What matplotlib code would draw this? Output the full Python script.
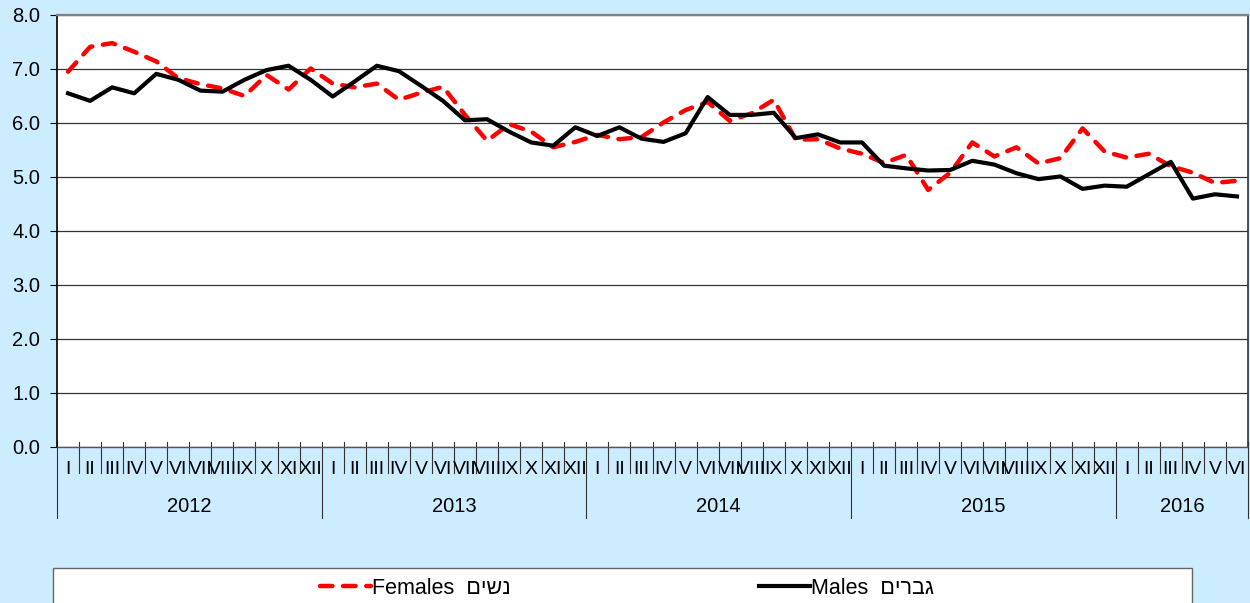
import matplotlib
matplotlib.use("Agg")
import matplotlib.pyplot as plt
import numpy as np
from matplotlib.patches import Rectangle
from matplotlib.transforms import blended_transform_factory

# monthly rates, 2012 I .. 2016 VI
years = ["2012", "2013", "2014", "2015", "2016"]
months_per_year = [12, 12, 12, 12, 6]
month_names = ["I", "II", "III", "IV", "V", "VI", "VII", "VIII", "IX", "X", "XI", "XII"]

females = [
    6.95, 7.41, 7.48, 7.32, 7.14, 6.83, 6.72, 6.64, 6.50, 6.89, 6.62, 7.01,
    6.73, 6.66, 6.73, 6.43, 6.56, 6.67, 6.15, 5.67, 5.98, 5.84, 5.55, 5.65,
    5.78, 5.70, 5.74, 6.01, 6.24, 6.39, 6.04, 6.18, 6.43, 5.69, 5.70, 5.53,
    5.43, 5.26, 5.41, 4.76, 5.08, 5.64, 5.38, 5.55, 5.25, 5.35, 5.90, 5.47,
    5.36, 5.43, 5.20, 5.08, 4.89, 4.93,
]
males = [
    6.55, 6.41, 6.66, 6.55, 6.91, 6.80, 6.60, 6.58, 6.80, 6.98, 7.06, 6.80,
    6.49, 6.77, 7.06, 6.96, 6.69, 6.41, 6.05, 6.07, 5.84, 5.64, 5.58, 5.92,
    5.76, 5.92, 5.71, 5.65, 5.81, 6.48, 6.15, 6.15, 6.19, 5.72, 5.79, 5.64,
    5.64, 5.21, 5.16, 5.12, 5.13, 5.30, 5.23, 5.07, 4.96, 5.01, 4.78, 4.84,
    4.82, 5.05, 5.28, 4.60, 4.68, 4.64,
]

label_females = "Females"
label_males = "Males"
heb_females = "נשים"
heb_males = "גברים"

BG = "#CCECFF"
W, H = 1250, 603

plt.rcParams["font.family"] = ["Liberation Sans", "DejaVu Sans"]

fig = plt.figure(figsize=(W / 100, H / 100), dpi=100, facecolor=BG)
left, right, top, bottom = 57, 1248, 15, 447
ax = fig.add_axes([left / W, 1 - bottom / H, (right - left) / W, (bottom - top) / H])
ax.set_facecolor("white")

x = np.arange(len(males))
ln_f, = ax.plot(x, females, color="#FF0000", lw=3.2, dashes=(2.8, 2.4),
                dash_capstyle="round", zorder=3)
ln_m, = ax.plot(x, males, color="black", lw=3.0, zorder=4)

ax.set_xlim(-0.5, len(males) - 0.5)
ax.set_ylim(0, 8)
ax.set_yticks(np.arange(0, 8.01, 1.0))
ax.set_yticklabels([f"{v:.1f}" for v in np.arange(0, 8.01, 1.0)])
ax.tick_params(axis="y", labelsize=14.5, length=5, width=0.8, pad=7, colors="black")
ax.set_xticks([])
ax.yaxis.grid(True, color="#333333", lw=0.9)
ax.set_axisbelow(True)

ax.spines["left"].set_color("black")
ax.spines["left"].set_linewidth(1.2)
ax.spines["top"].set_color("#808080")
ax.spines["top"].set_linewidth(1.6)
ax.spines["right"].set_color("#333333")
ax.spines["right"].set_linewidth(1.2)
ax.spines["bottom"].set_color("#555555")
ax.spines["bottom"].set_linewidth(1.0)

# two level category axis: months, then years
trans = blended_transform_factory(ax.transData, ax.transAxes)
ph = bottom - top
labels = [m for n in months_per_year for m in month_names[:n]]
for i, m in enumerate(labels):
    ax.text(i, -23 / ph, m, transform=trans, ha="center", va="center", fontsize=14)

year_edges = np.concatenate([[0], np.cumsum(months_per_year)])
for k in range(len(labels) + 1):
    low = -71 / ph if k in year_edges else -26 / ph
    ax.plot([k - 0.5, k - 0.5], [5 / ph, low], transform=trans, color="#333333",
            lw=0.8, clip_on=False)
for y, a, b in zip(years, year_edges[:-1], year_edges[1:]):
    ax.text((a + b - 1) / 2, -59 / ph, y, transform=trans, ha="center", va="center",
            fontsize=14.5)

# legend box
fig.add_artist(Rectangle((53 / W, -0.1), (1192 - 53) / W, 0.1 + (H - 568) / H,
                         transform=fig.transFigure, facecolor="white",
                         edgecolor="#666666", lw=1.0, zorder=1))
fig.legend([ln_f, ln_m],
           [f"{label_females}  {heb_females[::-1]}", f"{label_males}  {heb_males[::-1]}"],
           loc="center", bbox_to_anchor=(627 / W, 1 - 588 / H), ncol=2,
           frameon=False, fontsize=15.5, handlelength=2.4, handletextpad=0.05,
           columnspacing=11.5)

fig.savefig("out.png", dpi=100, facecolor=BG)
